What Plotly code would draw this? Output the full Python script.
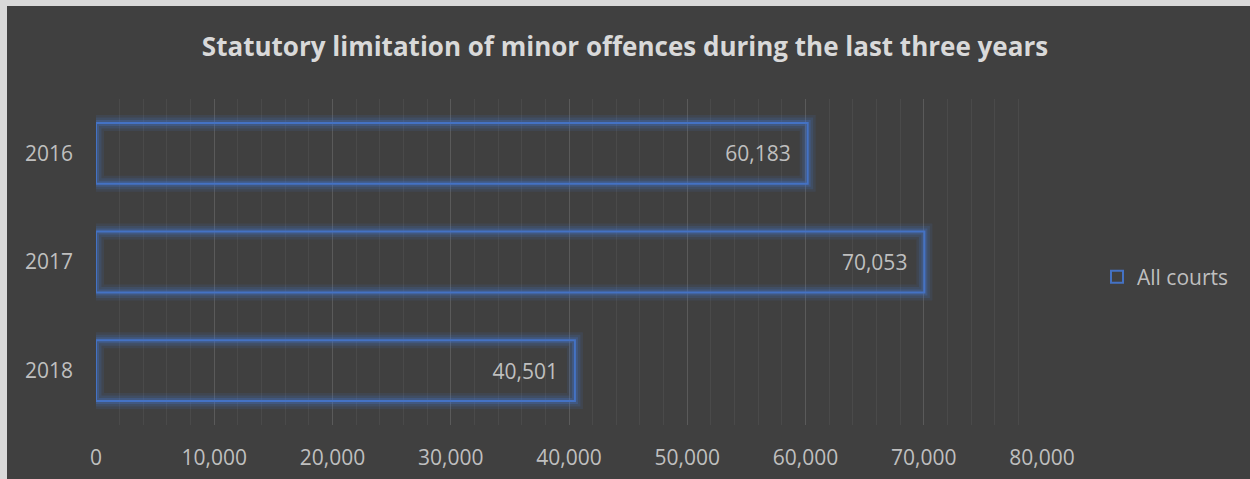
import plotly.graph_objects as go

years = ["2016", "2017", "2018"]
all_courts = [60183, 70053, 40501]
x_ticks = [0, 10000, 20000, 30000, 40000, 50000, 60000, 70000, 80000]
x_tick_labels = ["0", "10,000", "20,000", "30,000", "40,000", "50,000", "60,000", "70,000", "80,000"]

W, H = 1250, 479
L, R, T, B = 96, 208, 99, 54
pw, ph = W - L - R, H - T - B

BLUE = "#4472c4"
BG = "#404040"
TXT = "#bfbfbf"
FONT = "Open Sans"

fig = go.Figure()

# glow layers
for w, a in [(16, 0.12), (11, 0.18), (6, 0.30)]:
    fig.add_trace(go.Bar(
        y=years, x=all_courts, orientation="h",
        marker=dict(color="rgba(0,0,0,0)", line=dict(color=f"rgba(68,114,196,{a})", width=w)),
        showlegend=False, hoverinfo="skip",
    ))

fig.add_trace(go.Bar(
    y=years, x=all_courts, orientation="h", name="All courts",
    marker=dict(color="rgba(0,0,0,0)", line=dict(color=BLUE, width=2)),
    texttemplate="%{x:,.0f}\u2002\u2009",
    textposition="inside", insidetextanchor="end",
    textfont=dict(family=FONT, size=21, color=TXT),
    constraintext="none",
))

fig.update_layout(
    width=W, height=H,
    margin=dict(l=L, r=R, t=T, b=B, autoexpand=False),
    paper_bgcolor=BG, plot_bgcolor=BG,
    barmode="overlay", bargap=0.44,
    title=dict(text="<b>Statutory limitation of minor offences during the last three years</b>",
               x=0.5, xref="container", xanchor="center",
               y=1 - 47 / H, yref="container", yanchor="middle",
               font=dict(family=FONT, size=26, color="#d9d9d9")),
    legend=dict(x=(1097 - L) / pw, xanchor="left", y=(425 - 277) / ph, yanchor="middle",
                font=dict(family=FONT, size=21, color=TXT), bgcolor="rgba(0,0,0,0)",
                itemwidth=30, traceorder="reversed"),
    font=dict(family=FONT, color=TXT),
    xaxis=dict(range=[0, 80000], tickvals=x_ticks, ticktext=x_tick_labels,
               showgrid=True, gridcolor="#5a5a5a", gridwidth=1, zeroline=False,
               showline=False, ticks="", ticklabelstandoff=18,
               tickfont=dict(family=FONT, size=21, color=TXT),
               minor=dict(dtick=2000, showgrid=True, gridcolor="#4a4a4a", gridwidth=1)),
    yaxis=dict(autorange="reversed", showgrid=False, zeroline=False, showline=False,
               ticks="", ticklabelstandoff=22,
               tickfont=dict(family=FONT, size=21, color=TXT)),
    shapes=[
        dict(type="rect", xref="paper", yref="paper",
             x0=-L / pw, x1=(7 - L) / pw, y0=(T + ph - H) / ph, y1=(T + ph) / ph,
             fillcolor="#d9d9d9", line=dict(width=0), layer="above"),
        dict(type="rect", xref="paper", yref="paper",
             x0=-L / pw, x1=(W - L) / pw, y0=(T + ph - 6) / ph, y1=(T + ph) / ph,
             fillcolor="#d9d9d9", line=dict(width=0), layer="above"),
    ],
)

fig.write_html("out.html")
